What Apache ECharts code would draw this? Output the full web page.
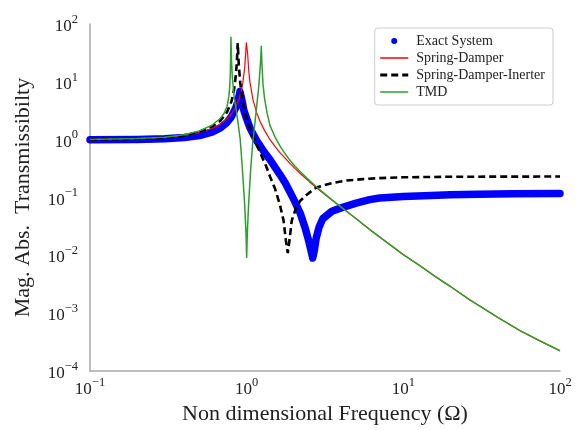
<!DOCTYPE html>
<html>
<head>
<meta charset="utf-8">
<script src="https://cdn.jsdelivr.net/npm/echarts@6/dist/echarts.min.js"></script>
<style>
html,body{margin:0;padding:0;background:#fff;}
#chart{width:583px;height:430px;}
</style>
</head>
<body>
<div id="chart"></div>
<script>
// Series names
const seriesNames = ['Exact System', 'Spring-Damper', 'Spring-Damper-Inerter', 'TMD'];

// Exact System
const exactX = [0.1, 0.2, 0.3, 0.4, 0.5, 0.6, 0.68, 0.75, 0.8, 0.85, 0.88, 0.906, 0.93, 0.96, 1.0, 1.05, 1.1, 1.16, 1.22, 1.3, 1.41, 1.52, 1.63, 1.76, 1.89, 2.03, 2.2, 2.36, 2.5, 2.58, 2.64, 2.7, 2.78, 2.9, 3.06, 3.5, 4.05, 5.0, 6.1, 7.06, 10, 15, 20, 30, 50, 100];
const exactY = [1.0, 1.01, 1.04, 1.09, 1.18, 1.35, 1.6, 2.0, 2.5, 3.5, 4.6, 6.8, 5.0, 3.2, 2.3, 1.6, 1.25, 0.95, 0.78, 0.6, 0.45, 0.33, 0.25, 0.18, 0.125, 0.085, 0.053, 0.03, 0.017, 0.0118, 0.009, 0.012, 0.02, 0.031, 0.043, 0.058, 0.067, 0.08, 0.092, 0.098, 0.104, 0.109, 0.112, 0.114, 0.116, 0.117];

// Spring-Damper
const sdX = [0.1, 0.2, 0.3, 0.4, 0.5, 0.6, 0.68, 0.75, 0.8, 0.85, 0.9, 0.94, 0.97, 0.985, 0.995, 1.0, 1.005, 1.015, 1.03, 1.05, 1.1, 1.16, 1.22, 1.3, 1.41, 1.52, 1.63, 1.76, 1.89, 2.03, 2.2, 2.5, 2.8, 3.5, 4.05, 5, 6.1, 8, 10, 12.8, 16, 20, 26.6, 33, 40, 55.6, 75, 100];
const sdY = [1.01, 1.04, 1.1, 1.19, 1.33, 1.56, 1.86, 2.29, 2.78, 3.6, 5.3, 8.6, 16.9, 30, 48, 50, 45, 30, 16, 9.8, 4.8, 2.9, 2.05, 1.45, 1.0, 0.76, 0.6, 0.48, 0.39, 0.32, 0.26, 0.19, 0.146, 0.091, 0.067, 0.043, 0.028, 0.0162, 0.0103, 0.0066, 0.0043, 0.0029, 0.0017, 0.00118, 0.00085, 0.0005, 0.00033, 0.000225];

// Spring-Damper-Inerter
const sdiX = [0.1, 0.2, 0.3, 0.4, 0.5, 0.6, 0.68, 0.75, 0.8, 0.83, 0.85, 0.865, 0.877, 0.89, 0.91, 0.94, 0.976, 1.0, 1.077, 1.15, 1.247, 1.33, 1.41, 1.52, 1.63, 1.72, 1.78, 1.83, 1.88, 1.94, 2.05, 2.19, 2.4, 2.66, 2.8, 3.5, 4.35, 5.5, 7.06, 10, 20, 50, 100];
const sdiY = [1.0, 1.03, 1.08, 1.17, 1.37, 1.68, 2.13, 3.0, 4.6, 7.2, 12, 21, 47, 20, 9.6, 5.0, 3.0, 2.33, 1.3, 0.85, 0.52, 0.35, 0.23, 0.14, 0.075, 0.04, 0.018, 0.011, 0.019, 0.04, 0.062, 0.087, 0.11, 0.137, 0.15, 0.178, 0.197, 0.208, 0.217, 0.224, 0.229, 0.23, 0.231];

// TMD
const tmdX = [0.1, 0.2, 0.3, 0.4, 0.5, 0.6, 0.68, 0.72, 0.75, 0.77, 0.78, 0.787, 0.794, 0.80, 0.81, 0.83, 0.85, 0.88, 0.91, 0.94, 0.97, 0.99, 1.0, 1.01, 1.03, 1.06, 1.09, 1.12, 1.16, 1.19, 1.215, 1.23, 1.24, 1.25, 1.27, 1.3, 1.35, 1.41, 1.52, 1.63, 1.76, 1.89, 2.03, 2.2, 2.5, 2.8, 3.5, 4.05, 5, 6.1, 8, 10, 12.8, 16, 20, 26.6, 33, 40, 55.6, 75, 100];
const tmdY = [1.01, 1.05, 1.1, 1.22, 1.42, 1.78, 2.35, 2.9, 3.8, 5.6, 8.5, 15, 60, 24, 12, 5.8, 3.9, 2.0, 1.0, 0.3, 0.08, 0.025, 0.009, 0.025, 0.08, 0.3, 0.8, 1.6, 3.9, 7.5, 15, 25, 42, 22, 9.5, 5.2, 2.9, 1.75, 1.1, 0.78, 0.57, 0.44, 0.35, 0.28, 0.2, 0.152, 0.091, 0.067, 0.043, 0.028, 0.0162, 0.0103, 0.0066, 0.0043, 0.0029, 0.0017, 0.00118, 0.00085, 0.0005, 0.00033, 0.000225];

// Axis ranges / ticks
const xTicks = [0.1, 1, 10, 100];
const yTicks = [1e-4, 1e-3, 1e-2, 1e-1, 1, 10, 100];

const FONT = '"Liberation Serif", "DejaVu Serif", serif';

function pairs(xs, ys) { return xs.map((x, i) => [x, ys[i]]); }
function powLabel(v) {
  const e = Math.round(Math.log10(v));
  const s = e < 0 ? '\u2212' + (-e) : String(e);
  return '{b|10}{s|' + s + '}';
}
const richTick = {
  b: { fontSize: 17, fontFamily: FONT, color: '#222', lineHeight: 22, verticalAlign: 'bottom' },
  s: { fontSize: 12.5, fontFamily: FONT, color: '#222', lineHeight: 13, verticalAlign: 'top' }
};

const chart = echarts.init(document.getElementById('chart'), null, { renderer: 'canvas' });
chart.setOption({
  backgroundColor: '#fff',
  animation: false,
  grid: { left: 90, right: 23, top: 24, bottom: 57, containLabel: false },
  legend: {
    orient: 'vertical',
    right: 30,
    top: 28,
    align: 'left',
    itemWidth: 28,
    itemHeight: 6,
    itemGap: 3,
    padding: [6, 8, 6, 4],
    borderColor: '#cccccc',
    borderWidth: 1,
    borderRadius: 3,
    backgroundColor: '#fff',
    textStyle: { fontFamily: FONT, fontSize: 14, color: '#222', padding: [0, 0, 0, 3] },
    data: [
      { name: seriesNames[0], icon: 'circle', itemStyle: { color: '#0000ff' } },
      { name: seriesNames[1], itemStyle: { opacity: 0 }, lineStyle: { width: 1.5 } },
      { name: seriesNames[2], itemStyle: { opacity: 0 }, lineStyle: { width: 3 } },
      { name: seriesNames[3], itemStyle: { opacity: 0 }, lineStyle: { width: 1.5 } }
    ]
  },
  xAxis: {
    type: 'log', logBase: 10, min: xTicks[0], max: xTicks[xTicks.length - 1],
    name: 'Non dimensional Frequency (\u03A9)', nameLocation: 'middle', nameGap: 27,
    nameTextStyle: { fontFamily: FONT, fontSize: 22, color: '#222' },
    axisLine: { lineStyle: { color: '#a8a8a8', width: 1.5 } },
    axisTick: { show: false },
    splitLine: { show: false },
    minorTick: { show: false },
    axisLabel: { margin: 5, formatter: powLabel, rich: richTick }
  },
  yAxis: {
    type: 'log', logBase: 10, min: yTicks[0], max: yTicks[yTicks.length - 1], splitNumber: 6,
    name: 'Mag. Abs.  Transmissibilty', nameLocation: 'middle', nameGap: 56,
    nameTextStyle: { fontFamily: FONT, fontSize: 22, color: '#222' },
    axisLine: { show: true, lineStyle: { color: '#a8a8a8', width: 1.5 } },
    axisTick: { show: false },
    splitLine: { show: false },
    axisLabel: { margin: 12, formatter: powLabel, rich: richTick }
  },
  series: [
    { name: seriesNames[0], type: 'line', data: pairs(exactX, exactY), showSymbol: false, symbol: 'none',
      lineStyle: { color: '#0000ff', width: 7.5, cap: 'round', join: 'round' }, itemStyle: { color: '#0000ff' }, z: 1 },
    { name: seriesNames[1], type: 'line', data: pairs(sdX, sdY), showSymbol: false, symbol: 'none',
      lineStyle: { color: '#ff0000', width: 1.2 }, itemStyle: { color: '#ff0000' }, z: 2 },
    { name: seriesNames[2], type: 'line', data: pairs(sdiX, sdiY), showSymbol: false, symbol: 'none',
      lineStyle: { color: '#000000', width: 2.6, type: [7, 4] }, itemStyle: { color: '#000000' }, z: 3 },
    { name: seriesNames[3], type: 'line', data: pairs(tmdX, tmdY), showSymbol: false, symbol: 'none',
      lineStyle: { color: '#2ca02c', width: 1.5 }, itemStyle: { color: '#2ca02c' }, z: 4 }
  ]
});
</script>
</body>
</html>
